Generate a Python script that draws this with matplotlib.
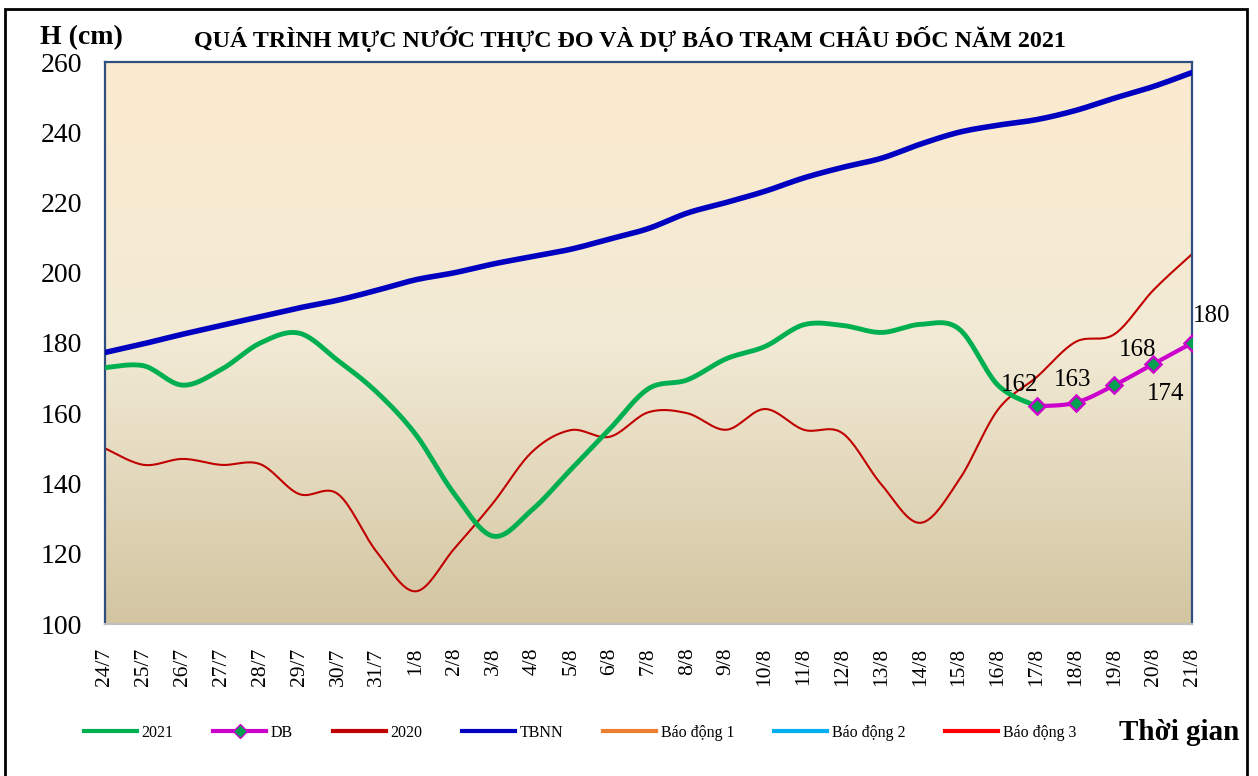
import numpy as np
import matplotlib
matplotlib.use('Agg')
import matplotlib.pyplot as plt
from matplotlib.colors import LinearSegmentedColormap
from matplotlib.patches import Rectangle
from matplotlib.lines import Line2D

'''Water level chart - Chau Doc station 2021'''

# ngay tren truc x
dates = ['24/7', '25/7', '26/7', '27/7', '28/7', '29/7', '30/7', '31/7',
         '1/8', '2/8', '3/8', '4/8', '5/8', '6/8', '7/8', '8/8', '9/8', '10/8',
         '11/8', '12/8', '13/8', '14/8', '15/8', '16/8', '17/8', '18/8', '19/8',
         '20/8', '21/8']

# muc nuoc thuc do 2021 (den 17/8)
h2021 = [173, 173.5, 168, 172.5, 180, 182.8, 175, 166, 154, 137, 125, 132.5,
         144, 155.5, 167, 169.5, 175.5, 179, 185.2, 185, 183, 185.3, 184, 168, 162]

# du bao 17/8 -> 21/8
db = [162, 163, 168, 174, 180]

# cung ky nam 2020
h2020 = [150, 145.3, 147, 145.3, 145.5, 137, 137, 120.5, 109.3, 121.5, 134.5,
         149, 155.2, 153.3, 160.3, 160, 155.3, 161.2, 155.3, 154.3, 139.7, 128.8,
         141, 161, 170.3, 180.3, 182.5, 195, 205.3]

# trung binh nhieu nam
tbnn = [177.3, 179.8, 182.5, 185, 187.5, 190, 192.2, 195, 198, 200, 202.5, 204.6,
        206.7, 209.6, 212.6, 217, 220, 223.2, 227, 230, 232.6, 236.6, 240, 242,
        243.6, 246.2, 249.7, 253, 257]

# bao dong I, II, III (ngoai pham vi truc y)
alarm = [350, 400, 450]


def smooth(x, y, n=20):
    # Excel-style smoothed line (bezier, tension 1/6)
    x = np.asarray(x, float)
    y = np.asarray(y, float)
    px = np.concatenate([[x[0]], x, [x[-1]]])
    py = np.concatenate([[y[0]], y, [y[-1]]])
    xs, ys = [], []
    t = np.linspace(0, 1, n)
    for i in range(1, len(px) - 2):
        p0 = np.array([px[i], py[i]])
        p3 = np.array([px[i + 1], py[i + 1]])
        p1 = p0 + (np.array([px[i + 1], py[i + 1]]) - np.array([px[i - 1], py[i - 1]])) / 6
        p2 = p3 - (np.array([px[i + 2], py[i + 2]]) - np.array([px[i], py[i]])) / 6
        b = ((1 - t) ** 3)[:, None] * p0 + (3 * (1 - t) ** 2 * t)[:, None] * p1 \
            + (3 * (1 - t) * t ** 2)[:, None] * p2 + (t ** 3)[:, None] * p3
        xs.extend(b[:, 0])
        ys.extend(b[:, 1])
    return np.array(xs), np.array(ys)


plt.rcParams['font.family'] = ['Liberation Serif', 'DejaVu Serif']

fig = plt.figure(figsize=(12.58, 7.76), dpi=100)
ax = fig.add_axes([105 / 1258, 1 - 624 / 776, (1192 - 105) / 1258, (624 - 62) / 776])

x = np.arange(len(dates))
n21 = len(h2021)
ndb = len(db)

# nen gradient
cmap = LinearSegmentedColormap.from_list('bg', [(0, '#D3C5A1'), (0.5, '#F2EAD5'), (1, '#FCEBCF')])
grad = np.linspace(0, 1, 256).reshape(-1, 1)
ax.imshow(grad, cmap=cmap, origin='lower', aspect='auto',
          extent=[0, len(dates) - 1, 100, 260], zorder=0)

sx, sy = smooth(x, tbnn)
ax.plot(sx, sy, color='#0000C0', lw=4, zorder=3)

sx, sy = smooth(x, h2020)
ax.plot(sx, sy, color='#C00000', lw=1.5, zorder=2)

sx, sy = smooth(x[:n21], h2021)
ax.plot(sx, sy, color='#00B050', lw=3.5, zorder=4)

xdb = x[len(dates) - ndb:]
sx, sy = smooth(xdb, db)
ax.plot(sx, sy, color='#CC00CC', lw=3, zorder=5)
ax.plot(xdb, db, ls='none', marker='D', ms=8, mfc='#00A050', mec='#CC00CC', mew=1.8, zorder=6)

alarm_colors = ['#ED7D31', '#00B0F0', '#FF0000']
for i, a in enumerate(alarm):
    ax.plot([x[0], x[-1]], [a, a], color=alarm_colors[i], lw=2.5)

# nhan gia tri du bao
offsets = [(-0.45, 6), (-0.08, 6.5), (0.6, 10), (0.33, -8.5), (0.5, 7.7)]
for i in range(ndb):
    ax.text(xdb[i] + offsets[i][0], db[i] + offsets[i][1], '%d' % db[i],
            fontsize=18, ha='center', va='center', zorder=7, clip_on=False)

ax.set_xlim(0, len(dates) - 1)
ax.set_ylim(100, 260)
ax.set_yticks(np.arange(100, 261, 20))
ax.set_xticks(x)
ax.set_xticklabels(dates, rotation=90, fontsize=15.5)
ax.tick_params(axis='y', labelsize=20, length=0, pad=16.5)
ax.tick_params(axis='x', length=0, pad=17)

for s in ['left', 'top', 'right']:
    ax.spines[s].set_color('#2F4F80')
    ax.spines[s].set_linewidth(1.6)
ax.spines['bottom'].set_color('#BFBFBF')
ax.spines['bottom'].set_linewidth(1.5)

fig.text(40 / 1258, 1 - 38 / 776, 'H (cm)', fontsize=20, fontweight='bold', va='center', ha='left')
fig.text(630 / 1258, 1 - 39 / 776, 'QUÁ TRÌNH MỰC NƯỚC THỰC ĐO VÀ DỰ BÁO TRẠM CHÂU ĐỐC NĂM 2021',
         fontsize=17.3, fontweight='bold', va='center', ha='center')
fig.text(1239 / 1258, 1 - 732 / 776, 'Thời gian', fontsize=21, fontweight='bold', va='center', ha='right')

# legend
labels = ['2021', 'DB', '2020', 'TBNN', 'Báo động 1', 'Báo động 2', 'Báo động 3']
colors = ['#00B050', '#CC00CC', '#C00000', '#0000C0'] + alarm_colors
handles = []
for lab, c in zip(labels, colors):
    if lab == 'DB':
        handles.append(Line2D([], [], color=c, lw=3, marker='D', ms=7, mfc='#00A050', mec=c))
    else:
        handles.append(Line2D([], [], color=c, lw=3))
fig.legend(handles, labels, loc='center', ncol=7,
           bbox_to_anchor=(580 / 1258, 1 - 733 / 776), frameon=False, fontsize=11.5,
           handlelength=3.3, columnspacing=2.5, handletextpad=0.3)

# khung ngoai (khong co canh duoi)
fig.patches.append(Rectangle((5 / 1258, -0.02), (1247 - 5) / 1258, 1.02 - 9 / 776,
                             transform=fig.transFigure, fill=False, edgecolor='black', lw=2))

fig.savefig('out.png', dpi=100)
